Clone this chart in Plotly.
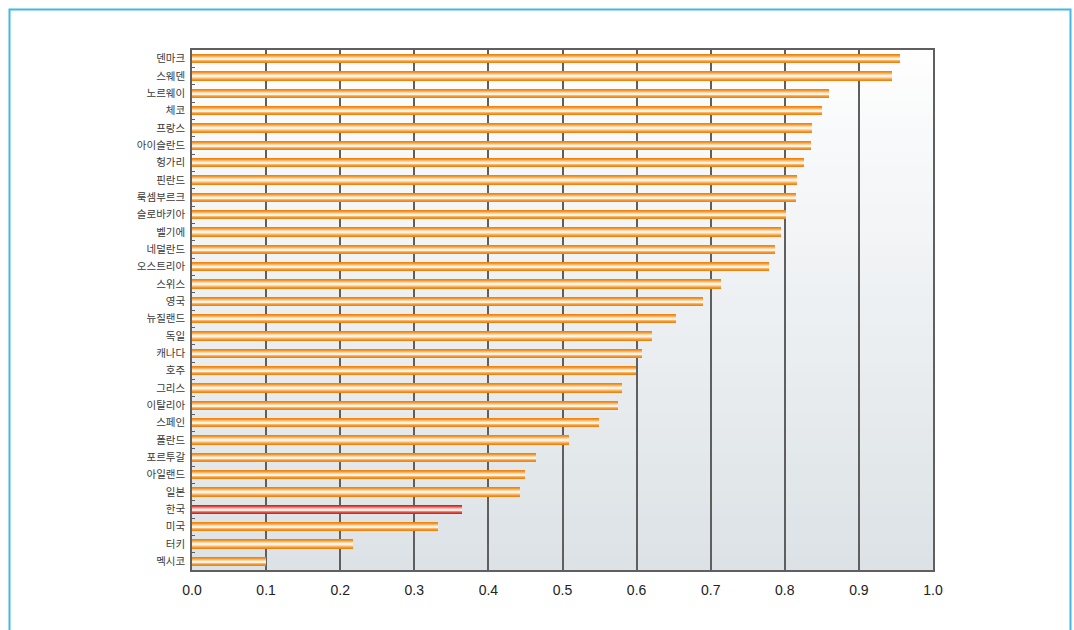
import plotly.graph_objects as go

countries = ["덴마크", "스웨덴", "노르웨이", "체코", "프랑스", "아이슬란드", "헝가리", "핀란드",
             "룩셈부르크", "슬로바키아", "벨기에", "네덜란드", "오스트리아", "스위스", "영국",
             "뉴질랜드", "독일", "캐나다", "호주", "그리스", "이탈리아", "스페인", "폴란드",
             "포르투갈", "아일랜드", "일본", "한국", "미국", "터키", "멕시코"]
values = [0.955, 0.945, 0.860, 0.850, 0.837, 0.835, 0.826, 0.816,
          0.815, 0.802, 0.795, 0.787, 0.779, 0.714, 0.690,
          0.653, 0.621, 0.607, 0.599, 0.580, 0.575, 0.549, 0.509,
          0.464, 0.449, 0.443, 0.364, 0.332, 0.217, 0.100]
highlight = "한국"
x_ticks = [0.0, 0.1, 0.2, 0.3, 0.4, 0.5, 0.6, 0.7, 0.8, 0.9, 1.0]

orange_layers = [(0.54, "#ef8410"), (0.44, "#f5962a"), (0.32, "#f9b668"), (0.20, "#fcd6a8"), (0.09, "#fff3e3")]
red_layers = [(0.54, "#cc2a26"), (0.44, "#dc4a40"), (0.32, "#e8847a"), (0.20, "#f3bcb3"), (0.09, "#fbe9e5")]

fig = go.Figure()
for i in range(len(orange_layers)):
    w = orange_layers[i][0]
    cols = [(red_layers[i][1] if c == highlight else orange_layers[i][1]) for c in countries]
    fig.add_trace(go.Bar(
        y=countries, x=values, orientation="h", width=w,
        marker=dict(color=cols, line=dict(width=0)),
        hoverinfo="x+y", showlegend=False,
    ))

# gradient background
shapes = []
n = 40
top = (254, 254, 254)
bot = (220, 226, 230)
for k in range(n):
    t = (k + 0.5) / n
    c = tuple(int(round(top[j] + (bot[j] - top[j]) * t)) for j in range(3))
    shapes.append(dict(type="rect", xref="x domain", yref="y domain",
                       x0=0, x1=1, y0=1 - (k + 1) / n, y1=1 - k / n + 0.001,
                       fillcolor="rgb(%d,%d,%d)" % c, line=dict(width=0), layer="below"))
# outer frame (blue)
L, R, T, B = 192, 933, 50, 570
W, H = R - L, B - T
def px(x):
    return (x - L) / W
def py(y):
    return (B - y) / H
shapes.append(dict(type="rect", xref="paper", yref="paper",
                   x0=px(9.5), x1=px(1070.5), y0=py(640), y1=py(9.5),
                   line=dict(color="#45b7e2", width=2), fillcolor="rgba(0,0,0,0)", layer="below"))

fig.update_layout(
    width=1074, height=630,
    margin=dict(l=L, r=1074 - R, t=T, b=630 - B),
    paper_bgcolor="white", plot_bgcolor="rgba(0,0,0,0)",
    barmode="overlay", bargap=0,
    font=dict(family="Noto Sans CJK KR, sans-serif", color="#333333"),
    shapes=shapes,
    xaxis=dict(range=[0, 1.0], tickvals=x_ticks, ticktext=["%.1f" % v for v in x_ticks],
               showgrid=True, gridcolor="#5f5f5f", gridwidth=1.5,
               showline=True, linecolor="#5f5f5f", linewidth=1.5, mirror=True,
               zeroline=False, ticks="", ticklabelstandoff=6,
               tickfont=dict(size=14, color="#222222", family="Liberation Sans, Arial, sans-serif")),
    yaxis=dict(categoryorder="array", categoryarray=countries[::-1], autorange=False,
               range=[-0.5, len(countries) - 0.5],
               showline=True, linecolor="#5f5f5f", linewidth=1.5, mirror=True,
               showgrid=False, ticks="inside", tickson="boundaries", ticklen=3,
               tickcolor="#5f5f5f", ticklabelstandoff=3,
               tickfont=dict(size=10.5, color="#3a3a3a")),
)

fig.write_html("out.html")
